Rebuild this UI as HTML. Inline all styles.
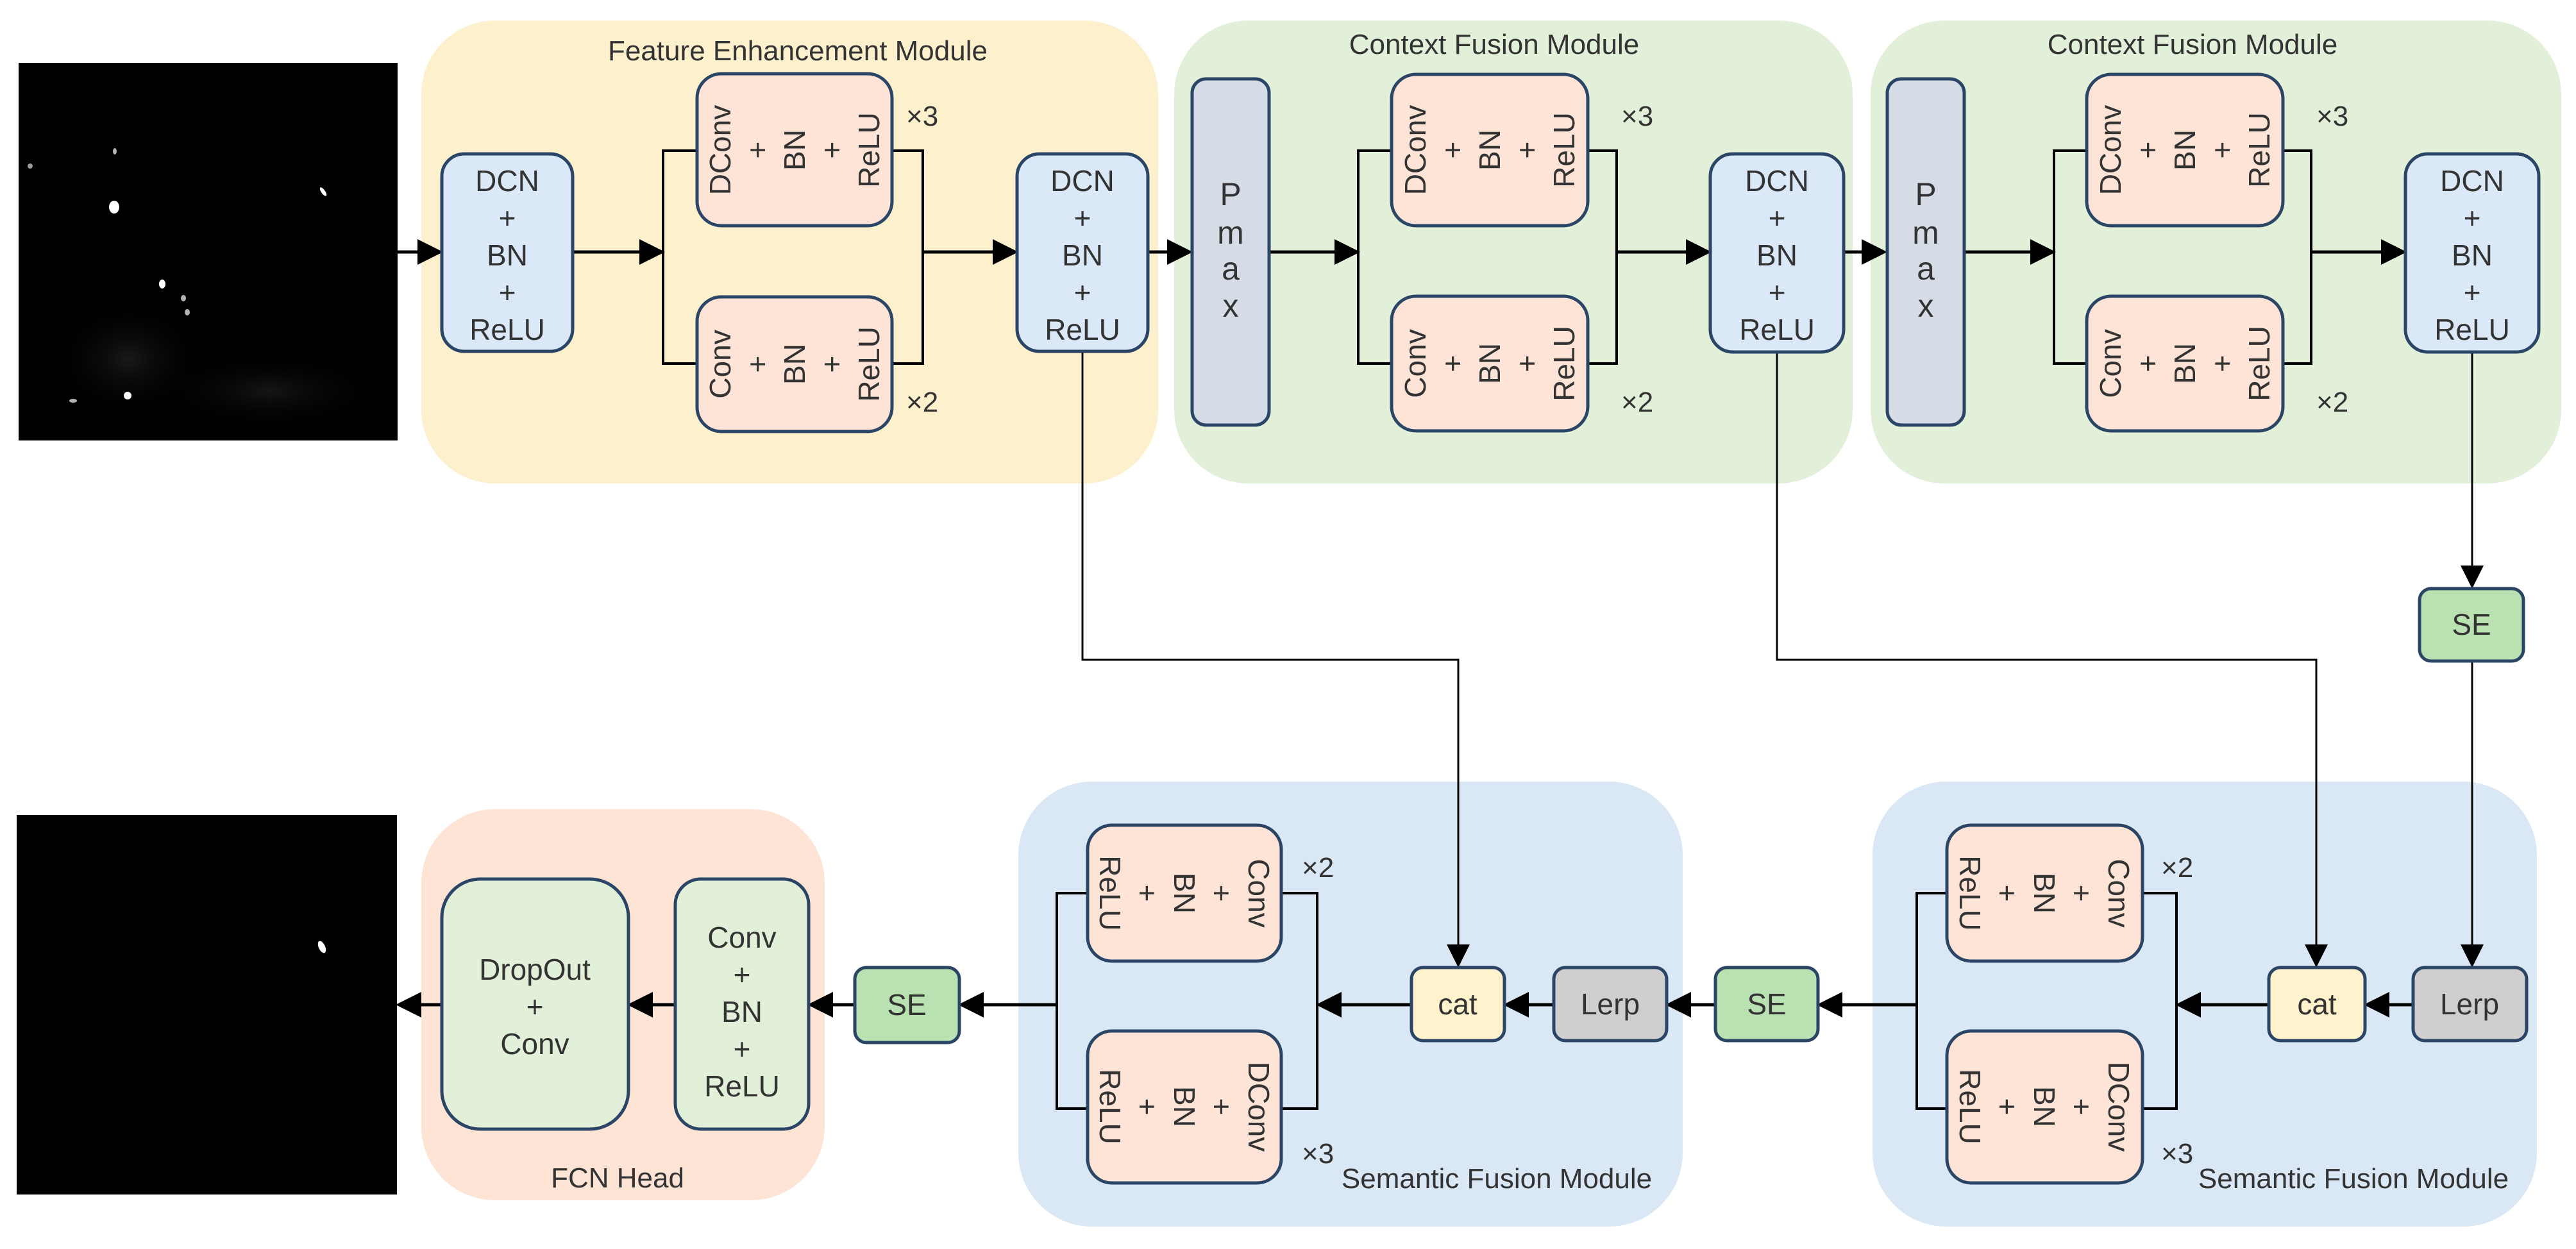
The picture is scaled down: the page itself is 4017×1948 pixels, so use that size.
<!DOCTYPE html>
<html><head><meta charset="utf-8"><style>
html,body{margin:0;padding:0;background:#fff;}
svg{display:block;}
text{font-family:"Liberation Sans",sans-serif;fill:#333;}
</style></head><body>
<svg width="4017" height="1948" viewBox="0 0 4017 1948" xmlns="http://www.w3.org/2000/svg">
<defs>
<marker id="a" markerWidth="8" markerHeight="8" refX="7" refY="4" orient="auto" markerUnits="strokeWidth"><path d="M0,0 L8,4 L0,8 z" fill="#000"/></marker>
<marker id="b" markerWidth="12" markerHeight="12" refX="11" refY="6" orient="auto" markerUnits="strokeWidth"><path d="M0,0 L12,6 L0,12 z" fill="#000"/></marker>
<radialGradient id="haze" cx="0.5" cy="0.5" r="0.5"><stop offset="0" stop-color="#2a2a2a"/><stop offset="1" stop-color="#000" stop-opacity="0"/></radialGradient>
</defs>

<!-- input image -->
<rect x="29" y="98" width="591" height="589" fill="#000"/>
<ellipse cx="200" cy="560" rx="120" ry="90" fill="url(#haze)" opacity="0.6"/>
<ellipse cx="420" cy="610" rx="180" ry="60" fill="url(#haze)" opacity="0.5"/>
<g fill="#fff">
<ellipse cx="178" cy="323" rx="8" ry="10"/>
<ellipse cx="179" cy="236" rx="3" ry="5" opacity="0.7"/>
<ellipse cx="47" cy="259" rx="4" ry="4" opacity="0.6"/>
<ellipse cx="504" cy="299" rx="3" ry="8" transform="rotate(-35 504 299)"/>
<ellipse cx="253" cy="443" rx="5" ry="7"/>
<ellipse cx="286" cy="465" rx="4" ry="5" opacity="0.7"/>
<ellipse cx="292" cy="487" rx="4" ry="5" opacity="0.7"/>
<ellipse cx="199" cy="617" rx="6" ry="6"/>
<ellipse cx="114" cy="625" rx="6" ry="3" opacity="0.7"/>
</g>

<!-- output image -->
<rect x="26" y="1271" width="593" height="592" fill="#000"/>
<ellipse cx="502" cy="1477" rx="5" ry="10" transform="rotate(-25 502 1477)" fill="#fff"/>

<!-- panels -->
<rect x="657" y="32" width="1149" height="722" rx="115" fill="#fdf0cd"/>
<rect x="1831" y="32" width="1058" height="722" rx="115" fill="#e2f0d9"/>
<rect x="2917" y="32" width="1077" height="722" rx="115" fill="#e2f0d9"/>
<rect x="657" y="1262" width="629" height="610" rx="115" fill="#fde4d4"/>
<rect x="1588" y="1219" width="1036" height="694" rx="115" fill="#dae8f5"/>
<rect x="2920" y="1219" width="1036" height="694" rx="115" fill="#dae8f5"/>

<text x="1244" y="94" font-size="44" text-anchor="middle">Feature Enhancement Module</text>
<text x="2330" y="84" font-size="44" text-anchor="middle">Context Fusion Module</text>
<text x="3419" y="84" font-size="44" text-anchor="middle">Context Fusion Module</text>
<text x="963" y="1852" font-size="44" text-anchor="middle">FCN Head</text>
<text x="2334" y="1853" font-size="44" text-anchor="middle">Semantic Fusion Module</text>
<text x="3670" y="1853" font-size="44" text-anchor="middle">Semantic Fusion Module</text>

<!-- connectors top -->
<g stroke="#000" stroke-width="5" fill="none">
<line x1="620" y1="393" x2="686" y2="393" marker-end="url(#a)"/>
<line x1="893" y1="393" x2="1032" y2="393" marker-end="url(#a)"/>
<polyline points="1087,235 1034,235 1034,567 1087,567" stroke-width="4"/>
<polyline points="1391,235 1439,235 1439,567 1391,567" stroke-width="4"/>
<line x1="1439" y1="393" x2="1583" y2="393" marker-end="url(#a)"/>
<line x1="1790" y1="393" x2="1855" y2="393" marker-end="url(#a)"/>
<line x1="1980" y1="393" x2="2116" y2="393" marker-end="url(#a)"/>
<polyline points="2170,235 2118,235 2118,567 2170,567" stroke-width="4"/>
<polyline points="2476,235 2521,235 2521,567 2476,567" stroke-width="4"/>
<line x1="2521" y1="393" x2="2664" y2="393" marker-end="url(#a)"/>
<line x1="2875" y1="393" x2="2938" y2="393" marker-end="url(#a)"/>
<line x1="3063" y1="393" x2="3201" y2="393" marker-end="url(#a)"/>
<polyline points="3254,235 3203,235 3203,567 3254,567" stroke-width="4"/>
<polyline points="3560,235 3604,235 3604,567 3560,567" stroke-width="4"/>
<line x1="3604" y1="393" x2="3748" y2="393" marker-end="url(#a)"/>
</g>
<!-- long connectors -->
<g stroke="#000" stroke-width="3" fill="none">
<polyline points="1688,548 1688,1029 2274,1029 2274,1506" marker-end="url(#b)"/>
<polyline points="2771,549 2771,1029 3612,1029 3612,1506" marker-end="url(#b)"/>
<line x1="3855" y1="549" x2="3855" y2="915" marker-end="url(#b)"/>
<line x1="3855" y1="1031" x2="3855" y2="1506" marker-end="url(#b)"/>
</g>
<!-- connectors bottom -->
<g stroke="#000" stroke-width="5" fill="none">
<line x1="3763" y1="1567" x2="3691" y2="1567" marker-end="url(#a)"/>
<line x1="3538" y1="1567" x2="3397" y2="1567" marker-end="url(#a)"/>
<polyline points="3341,1393 3394,1393 3394,1729 3341,1729" stroke-width="4"/>
<polyline points="3036,1393 2989,1393 2989,1729 3036,1729" stroke-width="4"/>
<line x1="2989" y1="1567" x2="2838" y2="1567" marker-end="url(#a)"/>
<line x1="2675" y1="1567" x2="2602" y2="1567" marker-end="url(#a)"/>
<line x1="2423" y1="1567" x2="2349" y2="1567" marker-end="url(#a)"/>
<line x1="2201" y1="1567" x2="2057" y2="1567" marker-end="url(#a)"/>
<polyline points="1998,1393 2054,1393 2054,1729 1998,1729" stroke-width="4"/>
<polyline points="1696,1393 1648,1393 1648,1729 1696,1729" stroke-width="4"/>
<line x1="1648" y1="1567" x2="1499" y2="1567" marker-end="url(#a)"/>
<line x1="1333" y1="1567" x2="1264" y2="1567" marker-end="url(#a)"/>
<line x1="1053" y1="1567" x2="983" y2="1567" marker-end="url(#a)"/>
<line x1="689" y1="1567" x2="622" y2="1567" marker-end="url(#a)"/>
</g>

<!-- boxes -->
<g stroke="#2b4566" stroke-width="5">
<rect x="689" y="240" width="204" height="308" rx="35" fill="#dae8f7"/>
<rect x="1586" y="240" width="204" height="308" rx="35" fill="#dae8f7"/>
<rect x="2667" y="240" width="208" height="309" rx="35" fill="#dae8f7"/>
<rect x="3751" y="240" width="208" height="309" rx="35" fill="#dae8f7"/>
<rect x="1087" y="115" width="304" height="237" rx="38" fill="#fde4d6"/>
<rect x="1087" y="463" width="304" height="210" rx="38" fill="#fde4d6"/>
<rect x="2170" y="116" width="306" height="236" rx="38" fill="#fde4d6"/>
<rect x="2170" y="462" width="306" height="210" rx="38" fill="#fde4d6"/>
<rect x="3254" y="116" width="306" height="236" rx="38" fill="#fde4d6"/>
<rect x="3254" y="462" width="306" height="210" rx="38" fill="#fde4d6"/>
<rect x="1859" y="123" width="120" height="540" rx="22" fill="#d5dce6"/>
<rect x="2943" y="123" width="120" height="540" rx="22" fill="#d5dce6"/>
<rect x="3773" y="918" width="162" height="113" rx="18" fill="#b9e1b1"/>
<rect x="1696" y="1287" width="302" height="212" rx="38" fill="#fde4d6"/>
<rect x="1696" y="1608" width="302" height="237" rx="38" fill="#fde4d6"/>
<rect x="3036" y="1287" width="305" height="212" rx="38" fill="#fde4d6"/>
<rect x="3036" y="1608" width="305" height="237" rx="38" fill="#fde4d6"/>
<rect x="2201" y="1509" width="145" height="114" rx="18" fill="#fff2cc"/>
<rect x="3538" y="1509" width="150" height="114" rx="18" fill="#fff2cc"/>
<rect x="2423" y="1509" width="176" height="114" rx="18" fill="#d0cece"/>
<rect x="3763" y="1509" width="177" height="114" rx="18" fill="#d0cece"/>
<rect x="2675" y="1509" width="160" height="114" rx="18" fill="#b9e1b1"/>
<rect x="1333" y="1509" width="163" height="117" rx="18" fill="#b9e1b1"/>
<rect x="689" y="1371" width="291" height="390" rx="60" fill="#e2f0d9"/>
<rect x="1053" y="1371" width="208" height="390" rx="40" fill="#e2f0d9"/>
</g>

<!-- box texts -->
<g font-size="46" text-anchor="middle">
<g><text x="791" y="298">DCN</text><text x="791" y="356">+</text><text x="791" y="414">BN</text><text x="791" y="472">+</text><text x="791" y="530">ReLU</text></g>
<g><text x="1688" y="298">DCN</text><text x="1688" y="356">+</text><text x="1688" y="414">BN</text><text x="1688" y="472">+</text><text x="1688" y="530">ReLU</text></g>
<g><text x="2771" y="298">DCN</text><text x="2771" y="356">+</text><text x="2771" y="414">BN</text><text x="2771" y="472">+</text><text x="2771" y="530">ReLU</text></g>
<g><text x="3855" y="298">DCN</text><text x="3855" y="356">+</text><text x="3855" y="414">BN</text><text x="3855" y="472">+</text><text x="3855" y="530">ReLU</text></g>
<g font-size="50"><text x="1919" y="320">P</text><text x="1919" y="380">m</text><text x="1919" y="436">a</text><text x="1919" y="494">x</text></g>
<g font-size="50"><text x="3003" y="320">P</text><text x="3003" y="380">m</text><text x="3003" y="436">a</text><text x="3003" y="494">x</text></g>
<text x="3854" y="990">SE</text>
<text x="2755" y="1582">SE</text>
<text x="1414" y="1583">SE</text>
<text x="2273" y="1582">cat</text>
<text x="3613" y="1582">cat</text>
<text x="2511" y="1582">Lerp</text>
<text x="3851" y="1582">Lerp</text>
<text x="834" y="1528">DropOut</text><text x="834" y="1586">+</text><text x="834" y="1644">Conv</text>
<text x="1157" y="1478">Conv</text><text x="1157" y="1536">+</text><text x="1157" y="1594">BN</text><text x="1157" y="1652">+</text><text x="1157" y="1710">ReLU</text>
</g>

<!-- rotated texts -->
<g font-size="46" text-anchor="middle" dominant-baseline="central">
<g transform="translate(1239,234) rotate(-90)"><text x="0" y="-116">DConv</text><text x="0" y="-58">+</text><text x="0" y="0">BN</text><text x="0" y="58">+</text><text x="0" y="116">ReLU</text></g>
<g transform="translate(1239,568) rotate(-90)"><text x="0" y="-116">Conv</text><text x="0" y="-58">+</text><text x="0" y="0">BN</text><text x="0" y="58">+</text><text x="0" y="116">ReLU</text></g>
<g transform="translate(2323,234) rotate(-90)"><text x="0" y="-116">DConv</text><text x="0" y="-58">+</text><text x="0" y="0">BN</text><text x="0" y="58">+</text><text x="0" y="116">ReLU</text></g>
<g transform="translate(2323,567) rotate(-90)"><text x="0" y="-116">Conv</text><text x="0" y="-58">+</text><text x="0" y="0">BN</text><text x="0" y="58">+</text><text x="0" y="116">ReLU</text></g>
<g transform="translate(3407,234) rotate(-90)"><text x="0" y="-116">DConv</text><text x="0" y="-58">+</text><text x="0" y="0">BN</text><text x="0" y="58">+</text><text x="0" y="116">ReLU</text></g>
<g transform="translate(3407,567) rotate(-90)"><text x="0" y="-116">Conv</text><text x="0" y="-58">+</text><text x="0" y="0">BN</text><text x="0" y="58">+</text><text x="0" y="116">ReLU</text></g>
<g transform="translate(1847,1393) rotate(90)"><text x="0" y="-116">Conv</text><text x="0" y="-58">+</text><text x="0" y="0">BN</text><text x="0" y="58">+</text><text x="0" y="116">ReLU</text></g>
<g transform="translate(1847,1726) rotate(90)"><text x="0" y="-116">DConv</text><text x="0" y="-58">+</text><text x="0" y="0">BN</text><text x="0" y="58">+</text><text x="0" y="116">ReLU</text></g>
<g transform="translate(3188,1393) rotate(90)"><text x="0" y="-116">Conv</text><text x="0" y="-58">+</text><text x="0" y="0">BN</text><text x="0" y="58">+</text><text x="0" y="116">ReLU</text></g>
<g transform="translate(3188,1726) rotate(90)"><text x="0" y="-116">DConv</text><text x="0" y="-58">+</text><text x="0" y="0">BN</text><text x="0" y="58">+</text><text x="0" y="116">ReLU</text></g>
</g>

<!-- multipliers -->
<g font-size="44">
<text x="1413" y="196">×3</text><text x="1413" y="642">×2</text>
<text x="2528" y="196">×3</text><text x="2528" y="642">×2</text>
<text x="3612" y="196">×3</text><text x="3612" y="642">×2</text>
<text x="2030" y="1368">×2</text><text x="2030" y="1814">×3</text>
<text x="3370" y="1368">×2</text><text x="3370" y="1814">×3</text>
</g>
</svg>
</body></html>
